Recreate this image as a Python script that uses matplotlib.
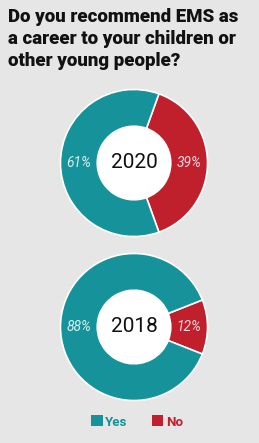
import matplotlib.pyplot as plt
from matplotlib.patches import Patch, Circle

# data
years = ['2020', '2018']
yes_pct = [61, 88]
no_pct = [39, 12]
labels = ['Yes', 'No']

title = "Do you recommend EMS as\na career to your children or\nother young people?"

teal = '#16939a'
red = '#c01f2c'
bg = '#e6e6e6'

plt.rcParams['font.family'] = ['Roboto', 'DejaVu Sans']

W, H = 259, 443
fig = plt.figure(figsize=(W / 100, H / 100), dpi=100)
fig.patch.set_facecolor(bg)

fig.text(8 / W, 1 - 8 / H, title, ha='left', va='top', fontsize=13.4,
         fontweight=900, color='#111111', linespacing=1.27)


def donut(cx, cy, r, year, yes, no):
    # cx, cy in pixels from top-left
    ax = fig.add_axes([(cx - r) / W, (H - cy - r) / H, 2 * r / W, 2 * r / H])
    vals = [no, yes]
    start = -no * 360 / 100 / 2
    ax.pie(vals, colors=[red, teal], startangle=start,
           counterclock=True, radius=1,
           wedgeprops=dict(width=0.5, edgecolor='white', linewidth=1.2))
    ax.add_patch(Circle((0, 0), 0.5, facecolor='white', edgecolor='none'))
    ax.text(0.75, 0, f'{no}%', ha='center', va='center', fontsize=10,
            style='italic', color='#f7d9dc')
    ax.text(-0.75, 0, f'{yes}%', ha='center', va='center', fontsize=10,
            style='italic', color='#d4f0f0')
    ax.text(0, 0, year, ha='center', va='center', fontsize=15, color='#111111')
    ax.set_xlim(-1.02, 1.02)
    ax.set_ylim(-1.02, 1.02)
    ax.set_aspect('equal')
    ax.axis('off')


donut(134, 163, 75, years[0], yes_pct[0], no_pct[0])
donut(134, 327, 75, years[1], yes_pct[1], no_pct[1])

handles = [Patch(facecolor=teal, edgecolor='none'),
           Patch(facecolor=red, edgecolor='none')]
leg = fig.legend(handles, labels, loc='center', bbox_to_anchor=(137 / W, 1 - 422 / H),
                 ncol=2, frameon=False, handlelength=0.9,
                 handleheight=0.9, handletextpad=0.2, columnspacing=1.8,
                 prop={'weight': 'bold', 'size': 9.5})
for t, c in zip(leg.get_texts(), [teal, red]):
    t.set_color(c)

fig.savefig('out.png', dpi=100, facecolor=bg)
